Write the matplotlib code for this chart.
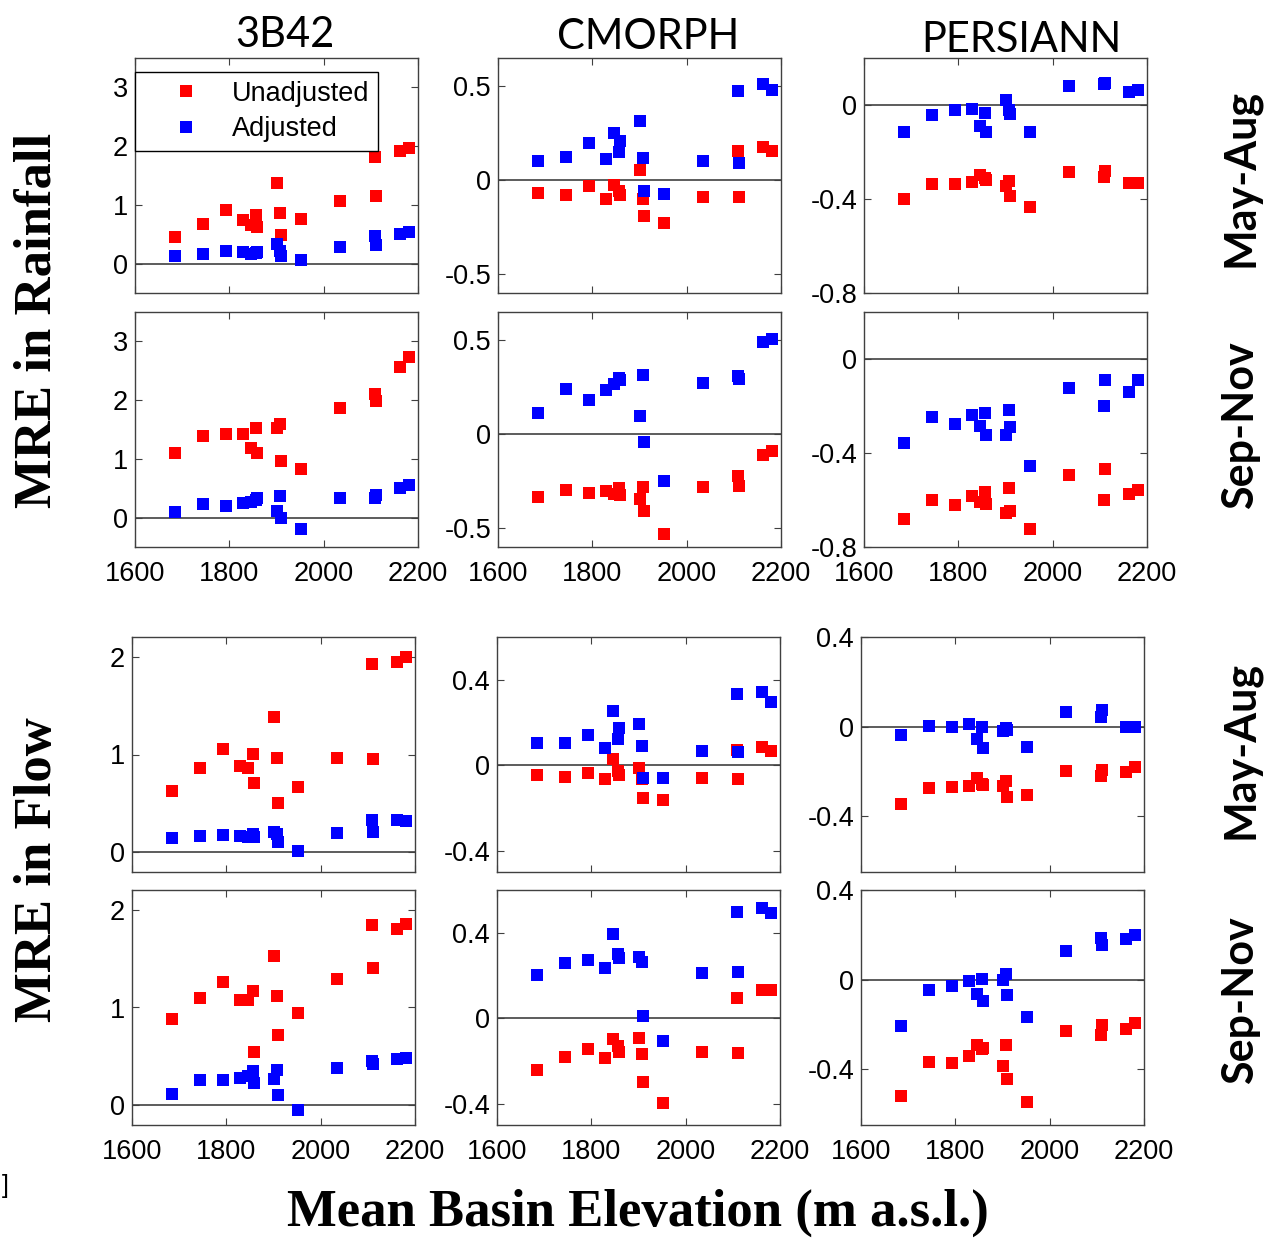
import numpy as np
import matplotlib
matplotlib.use('Agg')
from matplotlib import pyplot as plt

plt.rcParams['axes.unicode_minus'] = False

# mean basin elevation (m a.s.l.), same basins in every panel
elev = [1684, 1744, 1793, 1830, 1846, 1857, 1859, 1900, 1907, 1910, 1953, 2034, 2109, 2112, 2162, 2180]

products = ['3B42', 'CMORPH', 'PERSIANN']
seasons = ['May-Aug', 'Sep-Nov']

# MRE in rainfall, May-Aug
rain_ma_3b42_unadj = [0.45, 0.67, 0.92, 0.75, 0.66, 0.83, 0.62, 1.37, 0.86, 0.48, 0.76, 1.07, 1.81, 1.15, 1.91, 1.97]
rain_ma_3b42_adj = [0.13, 0.17, 0.22, 0.19, 0.17, 0.18, 0.19, 0.34, 0.21, 0.13, 0.06, 0.29, 0.47, 0.31, 0.51, 0.53]
rain_ma_cmorph_unadj = [-0.07, -0.08, -0.03, -0.10, -0.025, -0.06, -0.08, 0.055, -0.10, -0.19, -0.23, -0.09, 0.157, -0.09, 0.174, 0.153]
rain_ma_cmorph_adj = [0.10, 0.126, 0.196, 0.112, 0.25, 0.148, 0.21, 0.317, 0.117, -0.057, -0.075, 0.10, 0.473, 0.093, 0.512, 0.482]
rain_ma_pers_unadj = [-0.40, -0.336, -0.337, -0.326, -0.297, -0.31, -0.32, -0.343, -0.323, -0.387, -0.436, -0.287, -0.307, -0.279, -0.333, -0.33]
rain_ma_pers_adj = [-0.113, -0.043, -0.023, -0.016, -0.09, -0.036, -0.116, 0.02, -0.021, -0.037, -0.116, 0.081, 0.09, 0.095, 0.056, 0.063]

# MRE in rainfall, Sep-Nov
rain_so_3b42_unadj = [1.10, 1.39, 1.43, 1.42, 1.19, 1.52, 1.10, 1.52, 1.60, 0.97, 0.83, 1.87, 2.10, 1.99, 2.57, 2.73]
rain_so_3b42_adj = [0.10, 0.24, 0.19, 0.25, 0.26, 0.30, 0.34, 0.12, 0.37, -0.01, -0.20, 0.34, 0.34, 0.38, 0.51, 0.55]
rain_so_cmorph_unadj = [-0.332, -0.297, -0.314, -0.304, -0.318, -0.286, -0.323, -0.345, -0.283, -0.406, -0.53, -0.283, -0.221, -0.274, -0.11, -0.092]
rain_so_cmorph_adj = [0.111, 0.239, 0.18, 0.233, 0.269, 0.297, 0.286, 0.095, 0.314, -0.04, -0.247, 0.272, 0.307, 0.292, 0.491, 0.509]
rain_so_pers_unadj = [-0.681, -0.598, -0.622, -0.582, -0.61, -0.567, -0.617, -0.657, -0.547, -0.646, -0.723, -0.495, -0.598, -0.467, -0.575, -0.559]
rain_so_pers_adj = [-0.359, -0.247, -0.278, -0.239, -0.285, -0.229, -0.324, -0.323, -0.215, -0.289, -0.455, -0.124, -0.198, -0.091, -0.14, -0.09]

# MRE in flow, May-Aug
flow_ma_3b42_unadj = [0.625, 0.859, 1.058, 0.883, 0.866, 1.003, 0.711, 1.381, 0.962, 0.505, 0.663, 0.962, 1.924, 0.952, 1.942, 2.0]
flow_ma_3b42_adj = [0.144, 0.165, 0.182, 0.172, 0.155, 0.189, 0.155, 0.206, 0.189, 0.103, 0.017, 0.196, 0.326, 0.206, 0.333, 0.32]
flow_ma_cmorph_unadj = [-0.044, -0.055, -0.036, -0.066, 0.031, -0.028, -0.044, -0.013, -0.063, -0.154, -0.165, -0.06, 0.071, -0.063, 0.087, 0.066]
flow_ma_cmorph_adj = [0.106, 0.102, 0.142, 0.082, 0.252, 0.123, 0.176, 0.194, 0.091, -0.058, -0.058, 0.068, 0.331, 0.063, 0.343, 0.294]
flow_ma_pers_unadj = [-0.348, -0.274, -0.27, -0.267, -0.229, -0.255, -0.26, -0.265, -0.244, -0.315, -0.307, -0.199, -0.22, -0.195, -0.205, -0.183]
flow_ma_pers_adj = [-0.04, 0.003, -0.003, 0.01, -0.055, 0.0, -0.097, -0.018, -0.007, -0.015, -0.093, 0.067, 0.042, 0.072, 0.0, 0.0]

# MRE in flow, Sep-Nov
flow_so_3b42_unadj = [0.883, 1.10, 1.261, 1.076, 1.072, 1.168, 0.55, 1.522, 1.117, 0.722, 0.945, 1.289, 1.838, 1.399, 1.804, 1.849]
flow_so_3b42_adj = [0.12, 0.258, 0.258, 0.282, 0.302, 0.35, 0.234, 0.265, 0.361, 0.103, -0.045, 0.378, 0.454, 0.419, 0.474, 0.481]
flow_so_cmorph_unadj = [-0.241, -0.181, -0.146, -0.186, -0.099, -0.131, -0.157, -0.094, -0.168, -0.299, -0.398, -0.157, 0.094, -0.165, 0.134, 0.134]
flow_so_cmorph_adj = [0.20, 0.257, 0.271, 0.236, 0.394, 0.299, 0.28, 0.288, 0.265, 0.008, -0.106, 0.213, 0.496, 0.216, 0.515, 0.491]
flow_so_pers_unadj = [-0.52, -0.367, -0.375, -0.34, -0.292, -0.31, -0.307, -0.385, -0.292, -0.445, -0.547, -0.228, -0.247, -0.202, -0.22, -0.195]
flow_so_pers_adj = [-0.207, -0.045, -0.027, -0.007, -0.064, 0.003, -0.097, 0.0, 0.025, -0.067, -0.169, 0.127, 0.187, 0.153, 0.18, 0.199]

xticks = [1600, 1800, 2000, 2200]

rows = [
    [(rain_ma_3b42_unadj, rain_ma_3b42_adj), (rain_ma_cmorph_unadj, rain_ma_cmorph_adj), (rain_ma_pers_unadj, rain_ma_pers_adj)],
    [(rain_so_3b42_unadj, rain_so_3b42_adj), (rain_so_cmorph_unadj, rain_so_cmorph_adj), (rain_so_pers_unadj, rain_so_pers_adj)],
    [(flow_ma_3b42_unadj, flow_ma_3b42_adj), (flow_ma_cmorph_unadj, flow_ma_cmorph_adj), (flow_ma_pers_unadj, flow_ma_pers_adj)],
    [(flow_so_3b42_unadj, flow_so_3b42_adj), (flow_so_cmorph_unadj, flow_so_cmorph_adj), (flow_so_pers_unadj, flow_so_pers_adj)],
]

# y limits / ticks per (variable, product)
rain_ylims = [(-0.5, 3.5), (-0.6, 0.65), (-0.8, 0.2)]
rain_yticks = [[0, 1, 2, 3], [-0.5, 0, 0.5], [-0.8, -0.4, 0]]
flow_ylims = [(-0.2, 2.2), (-0.5, 0.6), (-0.65, 0.4)]
flow_yticks = [[0, 1, 2], [-0.4, 0, 0.4], [-0.4, 0, 0.4]]

W, H = 1268, 1240
fig = plt.figure(figsize=(W / 100, H / 100), dpi=100)

col_left = [[135, 498, 864], [135, 498, 864], [132, 497, 861], [132, 497, 861]]
row_top = [58, 312, 637, 890]
aw, ah = 283, 235

tickfont = 'Liberation Sans'
tfs = 19.5
for r in range(4):
    for c in range(3):
        x0 = col_left[r][c]
        y0 = row_top[r]
        ax = fig.add_axes([x0 / W, 1 - (y0 + ah) / H, aw / W, ah / H])
        unadj, adj = rows[r][c]
        ax.axhline(0, color='#303030', lw=1.1, zorder=1)
        ax.plot(elev, unadj, 's', color='#ff0000', ms=9, mew=0, label='Unadjusted', zorder=3)
        ax.plot(elev, adj, 's', color='#0000ff', ms=9, mew=0, label='Adjusted', zorder=3)
        ax.set_xlim(1600, 2200)
        if r < 2:
            ax.set_ylim(*rain_ylims[c])
            yt = rain_yticks[c]
        else:
            ax.set_ylim(*flow_ylims[c])
            yt = flow_yticks[c]
        ax.set_yticks(yt)
        ax.set_yticklabels(['%g' % v for v in yt], fontname=tickfont, fontsize=tfs)
        ax.set_xticks(xticks)
        if r in (1, 3):
            ax.set_xticklabels([str(v) for v in xticks], fontname=tickfont, fontsize=tfs)
        else:
            ax.set_xticklabels([])
        ax.tick_params(direction='in', top=True, right=True, length=5, width=0.8,
                       color='#404040')
        ax.tick_params(axis='y', pad=5)
        ax.tick_params(axis='x', pad=10)
        for s in ax.spines.values():
            s.set_color('#404040')
            s.set_linewidth(1.0)
        if r == 0 and c == 0:
            leg = ax.legend(loc='upper left', bbox_to_anchor=(0, 1 - 14 / ah), borderaxespad=0,
                            fancybox=False, framealpha=1, edgecolor='k', handletextpad=0.15,
                            borderpad=0.33, labelspacing=0.35, handlelength=3.1,
                            prop={'family': tickfont, 'size': tfs})
            leg.get_frame().set_linewidth(1.0)

# column titles (centres)
title_x = [285, 648, 1021]
title_y = [35, 37, 40]
for c in range(3):
    fig.text(title_x[c] / W, 1 - title_y[c] / H, products[c], ha='center', va='center',
             fontname='Lato', fontsize=30)

# season labels on the right
season_y = [178, 425, 750, 1000]
for r in range(4):
    fig.text(1240 / W, 1 - season_y[r] / H, seasons[r % 2], rotation=90, ha='center', va='center',
             fontname='Lato', fontweight='bold', fontsize=31)

# variable labels on the left
fig.text(38 / W, 1 - 320 / H, 'MRE in Rainfall', rotation=90, ha='center', va='center',
         fontname='Liberation Serif', fontweight='bold', fontsize=38)
fig.text(38 / W, 1 - 870 / H, 'MRE in Flow', rotation=90, ha='center', va='center',
         fontname='Liberation Serif', fontweight='bold', fontsize=38)
fig.text(638 / W, 1 - 1213 / H, 'Mean Basin Elevation (m a.s.l.)', ha='center', va='center',
         fontname='Liberation Serif', fontweight='bold', fontsize=38)
fig.text(2 / W, 1 - 1186 / H, ']', ha='left', va='center', fontname='Liberation Sans', fontsize=18)

fig.savefig('out.png', dpi=100)
